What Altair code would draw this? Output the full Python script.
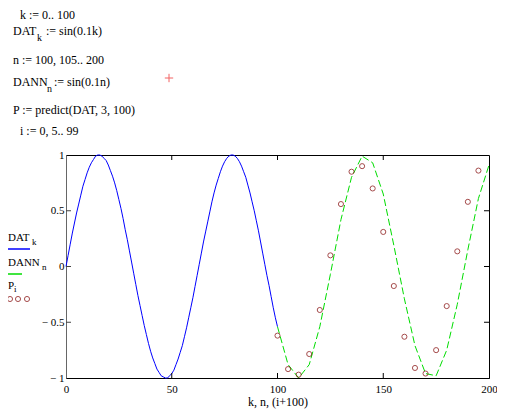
import altair as alt
import pandas as pd

SERIF = "Liberation Serif"

# ---- data ----
k_vals = list(range(0, 101))
dat_vals = [0.00, 0.10, 0.20, 0.30, 0.39, 0.48, 0.56, 0.64, 0.72, 0.78,
            0.84, 0.89, 0.93, 0.96, 0.99, 1.00, 1.00, 0.99, 0.97, 0.95,
            0.91, 0.86, 0.81, 0.75, 0.68, 0.60, 0.52, 0.43, 0.33, 0.24,
            0.14, 0.04, -0.06, -0.16, -0.26, -0.35, -0.44, -0.53, -0.61, -0.69,
            -0.76, -0.82, -0.87, -0.92, -0.95, -0.98, -0.99, -1.00, -1.00, -0.98,
            -0.96, -0.93, -0.88, -0.83, -0.77, -0.71, -0.63, -0.55, -0.46, -0.37,
            -0.28, -0.18, -0.08, 0.02, 0.12, 0.22, 0.31, 0.40, 0.49, 0.58,
            0.66, 0.73, 0.79, 0.85, 0.90, 0.94, 0.97, 0.99, 1.00, 1.00,
            0.99, 0.97, 0.94, 0.90, 0.85, 0.80, 0.73, 0.66, 0.58, 0.50,
            0.41, 0.32, 0.22, 0.12, 0.02, -0.08, -0.17, -0.27, -0.37, -0.46,
            -0.54]

n_vals = [100, 105, 110, 115, 120, 125, 130, 135, 140, 145, 150,
          155, 160, 165, 170, 175, 180, 185, 190, 195, 200]
dann_vals = [-0.54, -0.88, -1.00, -0.88, -0.54, -0.07, 0.42, 0.80, 0.99, 0.93, 0.65,
             0.19, -0.29, -0.71, -0.96, -0.98, -0.75, -0.34, 0.15, 0.61, 0.91]

p_x = [100, 105, 110, 115, 120, 125, 130, 135, 140, 145,
       150, 155, 160, 165, 170, 175, 180, 185, 190, 195]
p_vals = [-0.62, -0.92, -0.97, -0.785, -0.39, 0.10, 0.56, 0.85, 0.90, 0.70,
          0.31, -0.175, -0.63, -0.91, -0.96, -0.75, -0.355, 0.136, 0.58, 0.86]

x_ticks = [0, 50, 100, 150, 200]
y_ticks = [-1, -0.5, 0, 0.5, 1]
inner_x_ticks = [50, 100, 150]
inner_y_ticks = [-0.5, 0, 0.5]

df_dat = pd.DataFrame({"x": k_vals, "y": dat_vals})
df_dann = pd.DataFrame({"x": n_vals, "y": dann_vals})
df_p = pd.DataFrame({"x": p_x, "y": p_vals})
df_xt = pd.DataFrame({"x": inner_x_ticks})
df_yt = pd.DataFrame({"y": inner_y_ticks})
one = pd.DataFrame({"a": [0]})

# plot area geometry (page px)
X0, Y0, W, H = 66, 155, 423, 223

X_ENC = alt.X("x:Q", scale=alt.Scale(domain=[0, 200], nice=False, zero=False),
              axis=alt.Axis(values=x_ticks, ticks=False, grid=False, domainColor="black",
                            labelFont=SERIF, labelFontSize=11, labelColor="black",
                            labelPadding=5, labelFlush=False, labelOverlap=False,
                            title=None))
Y_ENC = alt.Y("y:Q", scale=alt.Scale(domain=[-1, 1], nice=False, zero=False),
              axis=alt.Axis(values=y_ticks, ticks=False, grid=False, domainColor="#666666",
                            labelFont=SERIF, labelFontSize=11, labelColor="black",
                            labelPadding=2, labelFlush=False, labelOverlap=False,
                            labelExpr="datum.value < 0 ? '\u2212 ' + (-datum.value) : '' + datum.value",
                            title=None))

blue = alt.Chart(df_dat).mark_line(color="#0000FF", strokeWidth=1).encode(x=X_ENC, y=Y_ENC)
green = alt.Chart(df_dann).mark_line(color="#00DD00", strokeWidth=1, strokeDash=[7, 3]).encode(x=X_ENC, y=Y_ENC)
pts = alt.Chart(df_p).mark_point(shape="circle", filled=False, color="#800000",
                                  size=26, strokeWidth=1).encode(x=X_ENC, y=Y_ENC)

tick_b = alt.Chart(df_xt).mark_rule(color="black", strokeWidth=1).encode(
    x=alt.X("x:Q"), y=alt.value(H), y2=alt.value(H - 5))
tick_t = alt.Chart(df_xt).mark_rule(color="black", strokeWidth=1).encode(
    x=alt.X("x:Q"), y=alt.value(0), y2=alt.value(5))
tick_l = alt.Chart(df_yt).mark_rule(color="#444444", strokeWidth=1).encode(
    y=alt.Y("y:Q"), x=alt.value(0), x2=alt.value(5))
tick_r = alt.Chart(df_yt).mark_rule(color="black", strokeWidth=1).encode(
    y=alt.Y("y:Q"), x=alt.value(W), x2=alt.value(W - 5))


def label(txt, px, py, size=12, color="black", align="left"):
    return alt.Chart(one).mark_text(text=txt, align=align, baseline="alphabetic",
                                    font=SERIF, fontSize=size, color=color).encode(
        x=alt.value(px - X0), y=alt.value(py - Y0))


def hline(x1, x2, py, color, dash=None):
    kw = dict(color=color, strokeWidth=1.5)
    if dash:
        kw["strokeDash"] = dash
    return alt.Chart(one).mark_rule(**kw).encode(
        x=alt.value(x1 - X0), x2=alt.value(x2 - X0), y=alt.value(py - Y0))


def circ(px, py):
    return alt.Chart(one).mark_point(shape="circle", filled=False, color="#800000",
                                     size=26, strokeWidth=1).encode(
        x=alt.value(px - X0), y=alt.value(py - Y0))


texts = [
    label("k := 0.. 100", 20, 18.5),
    label("DAT", 13, 35), label("k", 37, 41, size=10), label(":= sin(0.1k)", 46, 35),
    label("n := 100, 105.. 200", 13, 64),
    label("DANN", 13, 86), label("n", 47, 92, size=10), label(":= sin(0.1n)", 54, 86),
    label("P := predict(DAT, 3, 100)", 13, 114),
    label("i := 0, 5.. 99", 20, 135),
    # legend
    label("DAT", 8, 241, size=11), label("k", 32, 245, size=9),
    hline(7, 30, 249, "#0000FF"),
    label("DANN", 8, 266, size=11), label("n", 42, 270, size=9),
    hline(7, 22, 274, "#00DD00"),
    label("P", 8, 289, size=11), label("i", 14, 292, size=9),
    circ(10, 299), circ(18, 299), circ(27, 299),
    # x title
    label("k, n, (i+100)", 278, 406, align="center"),
]

cross = alt.Chart(one).mark_point(shape="M-1,0L1,0M0,-1L0,1", filled=False, color="#EE2222",
                                   size=70, strokeWidth=1).encode(
    x=alt.value(169 - X0), y=alt.value(78 - Y0))

border = alt.Chart(one).mark_rule(color="#BBBBBB", strokeWidth=1).encode(
    x=alt.value(502 - X0), y=alt.value(140 - Y0), y2=alt.value(415 - Y0))

chart = alt.layer(blue, green, pts, tick_b, tick_t, tick_l, tick_r, cross, border, *texts).properties(
    width=W, height=H,
    padding={"left": X0 - 8, "top": Y0 - 8, "right": 505 - 16 - (X0 - 8) - W, "bottom": 33},
    autosize=alt.AutoSizeParams(type="none"),
    background="white",
).configure_view(stroke="black", strokeWidth=1)

chart.save("out.html", embed_options={"renderer": "svg", "actions": False})
